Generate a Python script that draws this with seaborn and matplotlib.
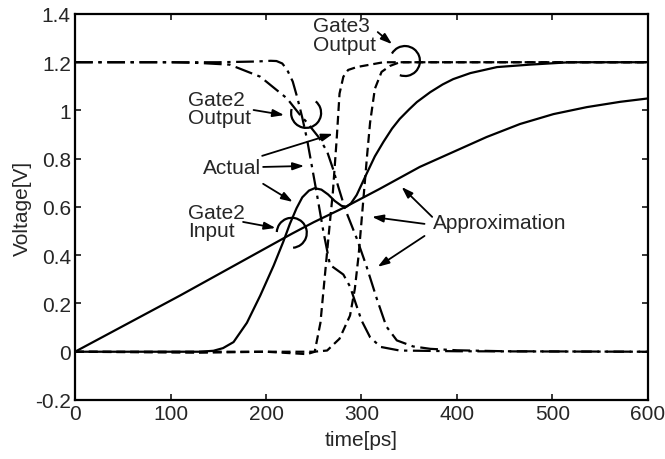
import matplotlib
matplotlib.use("Agg")
import matplotlib.pyplot as plt
from matplotlib.patches import Arc
from matplotlib.transforms import ScaledTranslation
import seaborn as sns

# Gate2 input, approximation (ramp)
t_in_apx = [0, 110, 227, 250, 283, 319, 361, 396, 431, 466, 501, 536, 571, 600]
v_in_apx = [0, 0.233, 0.489, 0.537, 0.60, 0.675, 0.766, 0.828, 0.89, 0.944, 0.985, 1.014, 1.036, 1.05]

# Gate2 input, actual
t_in_act = [0, 131, 145, 155, 166, 180, 194, 208, 218, 225, 232, 238, 245, 251, 258, 265,
            272, 279, 284, 289, 295, 305, 314, 323, 332, 340, 350, 358, 372, 385, 396,
            414, 442, 476, 518, 560, 600]
v_in_act = [0, 0, 0.004, 0.015, 0.04, 0.12, 0.233, 0.357, 0.455, 0.53, 0.595, 0.64, 0.668,
            0.678, 0.672, 0.652, 0.625, 0.605, 0.60, 0.615, 0.65, 0.735, 0.81, 0.87, 0.925,
            0.965, 1.005, 1.035, 1.076, 1.108, 1.13, 1.155, 1.18, 1.19, 1.2, 1.2, 1.2]

# Gate2 output, actual
t_out2_act = [0, 150, 190, 205, 211, 217, 222, 228, 233, 238, 243, 248, 253, 260, 267, 274,
              281, 288, 294, 300, 309, 320, 340, 400, 600]
v_out2_act = [1.2, 1.2, 1.203, 1.206, 1.205, 1.195, 1.17, 1.12, 1.05, 0.97, 0.88, 0.77, 0.66,
              0.50, 0.36, 0.34, 0.32, 0.27, 0.20, 0.13, 0.06, 0.02, 0.005, 0.002, 0]

# Gate2 output, approximation
t_out2_apx = [0, 100, 130, 162, 194, 222, 236, 243, 255, 264, 270, 276, 283, 295, 305, 316,
              326, 337, 354, 372, 400, 450, 600]
v_out2_apx = [1.2, 1.2, 1.197, 1.19, 1.14, 1.05, 0.98, 0.95, 0.89, 0.83, 0.76, 0.68, 0.59,
              0.47, 0.357, 0.22, 0.105, 0.047, 0.022, 0.012, 0.006, 0.002, 0]

# Gate3 output, actual
t_out3_act = [0, 130, 200, 243, 251, 257, 262, 267, 270, 274, 277, 281, 286, 295, 323, 600]
v_out3_act = [0, -0.004, 0, -0.01, 0, 0.12, 0.33, 0.54, 0.66, 0.88, 1.07, 1.14, 1.168, 1.18, 1.2, 1.2]

# Gate3 output, approximation
t_out3_apx = [0, 250, 264, 277, 288, 293, 297, 300, 303, 306, 309, 314, 321, 330, 340, 600]
v_out3_apx = [0, 0, 0.005, 0.054, 0.15, 0.26, 0.40, 0.54, 0.68, 0.82, 0.95, 1.09, 1.16, 1.185, 1.2, 1.2]

x_ticks = [0, 100, 200, 300, 400, 500, 600]
y_ticks = [-0.2, 0, 0.2, 0.4, 0.6, 0.8, 1, 1.2, 1.4]

sns.set_style("ticks")
plt.rcParams["font.family"] = ["Liberation Sans", "DejaVu Sans"]
plt.rcParams["font.size"] = 15

fig = plt.figure(figsize=(6.65, 4.6), dpi=100)
ax = fig.add_axes([0.1128, 0.1283, 0.8616, 0.8391])

dashdot = (0, (8, 2.5, 1.5, 2.5))
dashed = (0, (4, 2.2))
lw = 1.6
sns.lineplot(x=t_out3_act, y=v_out3_act, ax=ax, color="k", lw=lw, linestyle=dashed, estimator=None)
sns.lineplot(x=t_out3_apx, y=v_out3_apx, ax=ax, color="k", lw=lw, linestyle=dashed, estimator=None)
sns.lineplot(x=t_out2_act, y=v_out2_act, ax=ax, color="k", lw=lw, linestyle=dashdot, estimator=None)
sns.lineplot(x=t_out2_apx, y=v_out2_apx, ax=ax, color="k", lw=lw, linestyle=dashdot, estimator=None)
sns.lineplot(x=t_in_act, y=v_in_act, ax=ax, color="k", lw=lw, estimator=None)
sns.lineplot(x=t_in_apx, y=v_in_apx, ax=ax, color="k", lw=lw, estimator=None)

# circles marking the points (drawn as round arcs in screen units)
def mark_arc(cx, cy, a1, a2, size=0.30):
    tr = fig.dpi_scale_trans + ScaledTranslation(cx, cy, ax.transData)
    ax.add_patch(Arc((0, 0), size, size, theta1=a1, theta2=a2,
                     color="k", lw=1.6, transform=tr, clip_on=False))

mark_arc(345.5, 1.205, -110, 150)
mark_arc(242, 0.99, 165, 410)
mark_arc(227, 0.493, -85, 177)

ax.set_xlim(0, 600)
ax.set_ylim(-0.2, 1.4)
ax.set_xticks(x_ticks)
ax.set_yticks(y_ticks)
ax.set_xticklabels([f"{v:g}" for v in x_ticks])
ax.set_yticklabels([f"{v:g}" for v in y_ticks])
ax.tick_params(direction="in", length=4, width=1.3, top=True, right=True, pad=3)
for s in ax.spines.values():
    s.set_linewidth(1.6)
    s.set_color("k")
ax.set_xlabel("time[ps]", labelpad=5)
ax.set_ylabel("Voltage[V]", labelpad=2)

# labels
ax.text(249, 1.39, "Gate3\nOutput", ha="left", va="top", linespacing=1.0)
ax.text(118, 1.085, "Gate2\nOutput", ha="left", va="top", linespacing=0.95)
ax.text(134, 0.803, "Actual", ha="left", va="top")
ax.text(118, 0.617, "Gate2\nInput", ha="left", va="top", linespacing=0.95)
ax.text(375, 0.576, "Approximation", ha="left", va="top")

arrows = [
    ((317, 1.325), (332, 1.275)),
    ((187, 1.002), (219, 0.981)),
    ((196, 0.812), (270, 0.903)),
    ((197, 0.766), (240, 0.770)),
    ((197, 0.696), (228, 0.621)),
    ((176, 0.538), (210, 0.513)),
    ((374, 0.559), (342, 0.683)),
    ((366, 0.530), (311, 0.559)),
    ((366, 0.480), (317, 0.352)),
]
for tail, head in arrows:
    ax.annotate("", xy=head, xytext=tail,
                arrowprops=dict(arrowstyle="-|>,head_length=0.45,head_width=0.15",
                                color="k", lw=1.3, shrinkA=0, shrinkB=0))

fig.savefig("out.png", dpi=100)
